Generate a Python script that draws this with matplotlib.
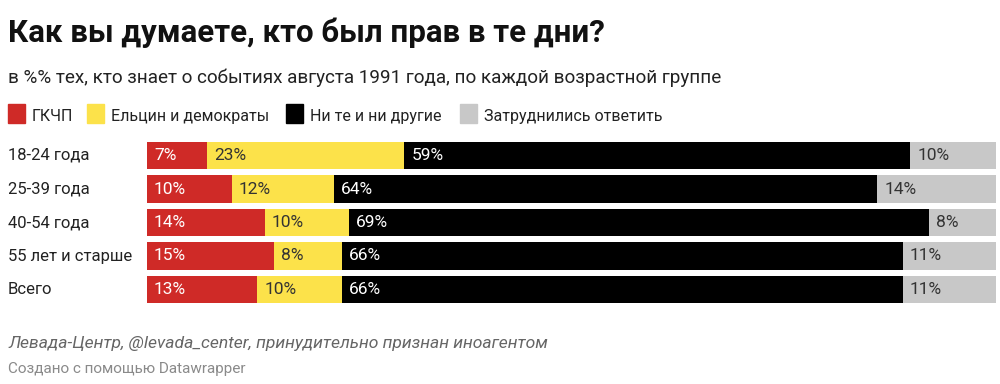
import matplotlib.pyplot as plt
import matplotlib.transforms as mtransforms
import numpy as np

plt.rcParams["font.family"] = ["Roboto", "DejaVu Sans"]

# data
groups = ["18-24 года", "25-39 года", "40-54 года", "55 лет и старше", "Всего"]
series = ["ГКЧП", "Ельцин и демократы", "Ни те и ни другие", "Затруднились ответить"]
gkchp = [7, 10, 14, 15, 13]
yeltsin = [23, 12, 10, 8, 10]
neither = [59, 64, 69, 66, 66]
unsure = [10, 14, 8, 11, 11]

colors = ["#cf2a27", "#fce24a", "#000000", "#c8c8c8"]
label_colors = ["white", "#333333", "white", "#333333"]

W, H = 1000, 384
fig = plt.figure(figsize=(W / 100, H / 100), dpi=100)


def fx(px):
    return px / W


def fy(py):
    return 1 - py / H


# title / subtitle
fig.text(fx(8), fy(42), "Как вы думаете, кто был прав в те дни?",
         fontsize=22.5, fontweight="bold", color="#111111", va="baseline")
fig.text(fx(8), fy(83),
         "в %% тех, кто знает о событиях августа 1991 года, по каждой возрастной группе",
         fontsize=13.6, color="#222222", va="baseline")

# legend
leg_sq = [8, 87, 286, 460]
for x0, name, c in zip(leg_sq, series, colors):
    fig.patches.append(plt.Rectangle((fx(x0), fy(123)), fx(17), 19 / H,
                                     transform=fig.transFigure, color=c))
    fig.text(fx(x0 + 24), fy(121), name, fontsize=11.5, color="#222222",
             va="baseline")

# bars
ax = fig.add_axes([fx(147), fy(306.25), fx(996 - 147), 167.5 / H])
data = np.array([gkchp, yeltsin, neither, unsure], dtype=float)
shares = data / data.sum(axis=0) * 100
y = np.arange(len(groups))
left = np.zeros(len(groups))
for i in range(len(series)):
    ax.barh(y, shares[i], left=left, height=0.81, color=colors[i], linewidth=0)
    for j in range(len(groups)):
        ax.annotate(f"{int(data[i, j])}%", (left[j], y[j]),
                    xytext=(7, 0), textcoords="offset pixels",
                    ha="left", va="center", fontsize=12.5,
                    color=label_colors[i])
    left += shares[i]

ax.set_xlim(0, 100)
ax.set_ylim(len(groups) - 0.5, -0.5)
ax.axis("off")

tr = mtransforms.blended_transform_factory(fig.transFigure, ax.transData)
for j, g in enumerate(groups):
    ax.text(fx(8), y[j], g, transform=tr, ha="left", va="center",
            fontsize=12, color="#222222")

# footer
fig.text(fx(8), fy(348), "Левада-Центр, @levada_center, принудительно признан иноагентом",
         fontsize=12.6, fontstyle="italic", color="#666666", va="baseline")
fig.text(fx(8), fy(373), "Создано с помощью Datawrapper",
         fontsize=11, color="#8a8a8a", va="baseline")

fig.savefig("out.png", dpi=100, facecolor="white")
